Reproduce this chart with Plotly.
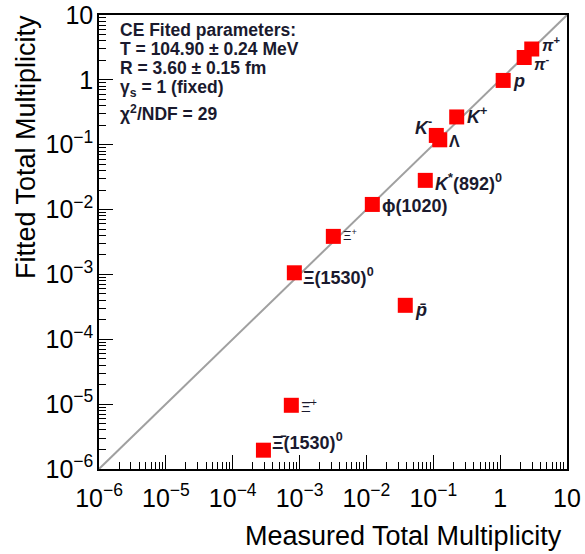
import numpy as np
import plotly.graph_objects as go

# Particle species and their measured / fitted total multiplicities
particles = ["pi+", "pi-", "p", "K+", "K-", "Lambda", "K*0", "phi",
             "Xi", "Xi1530", "pbar", "Xibar+", "Xibar1530"]
measured = [2.97, 2.29, 1.11, 0.224, 0.111, 0.125, 0.0759, 0.01225,
            0.0032, 0.000835, 0.0381, 0.000753, 0.000288]
fitted = [2.99, 2.21, 0.98, 0.268, 0.139, 0.119, 0.0282, 0.0120,
          0.00386, 0.00106, 0.000334, 9.6e-6, 1.95e-6]

labels = ["<b><i>π</i><sup>+</sup></b>", "<b><i>π</i><sup>-</sup></b>", "<b><i>p</i></b>",
          "<b><i>K</i><sup>+</sup></b>", "<b><i>K</i><sup>-</sup></b>", "<b>Λ</b>",
          "<b><i>K</i><sup>*</sup>(892)<sup>0</sup></b>", "<b>ϕ(1020)</b>",
          "Ξ<sup>+</sup>", "<b>Ξ(1530)<sup>0</sup></b>", "<b><i>p̄</i></b>",
          "Ξ̄<sup>+</sup>", "<b>Ξ̄(1530)<sup>0</sup></b>"]

decades = [-6, -5, -4, -3, -2, -1, 0, 1]
tick_text = ["10<sup>−6</sup>", "10<sup>−5</sup>", "10<sup>−4</sup>", "10<sup>−3</sup>",
             "10<sup>−2</sup>", "10<sup>−1</sup>", "1", "10"]

fit_lines = ["<b>CE Fited parameters:</b>",
             "<b>T = 104.90 ± 0.24 MeV</b>",
             "<b>R = 3.60 ± 0.15 fm</b>",
             "<b>γ<sub>s</sub> = 1 (fixed)</b>",
             "<b>χ<sup>2</sup>/NDF = 29</b>"]

FONT = "Liberation Sans, Arial, sans-serif"

W, H = 585, 554
L, R, T, B = 99, 18, 15, 85
pw, ph = W - L - R, H - T - B

tick_vals = [10.0 ** d for d in decades]
minor_vals = [m * 10.0 ** d for d in decades[:-1] for m in range(2, 10)]

fig = go.Figure()

# y = x reference line
fig.add_trace(go.Scatter(x=[tick_vals[0], tick_vals[-1]], y=[tick_vals[0], tick_vals[-1]],
                         mode="lines", line=dict(color="#a0a0a0", width=2),
                         hoverinfo="skip", showlegend=False))

fig.add_trace(go.Scatter(x=measured, y=fitted, mode="markers",
                         marker=dict(symbol="square", size=15, color="#ff0000",
                                     line=dict(width=0)),
                         text=particles, showlegend=False))

# pixel offsets, anchor and font size of each particle label relative to its marker
label_pos = {
    "pi+": (8, 5, "left", 16),
    "pi-": (8, -5, "left", 16),
    "p": (8, -1, "left", 18),
    "K+": (8, 1, "left", 18),
    "K-": (-2, 9, "right", 18),
    "Lambda": (7, -2, "left", 16),
    "K*0": (8, -2, "left", 18),
    "phi": (8, -2, "left", 18),
    "Xi": (8, 1, "left", 13),
    "Xi1530": (7, -4, "left", 18),
    "pbar": (8, -5, "left", 18),
    "Xibar+": (8, 0, "left", 15),
    "Xibar1530": (7, 9, "left", 18),
}

for name, mx, fy, lab in zip(particles, measured, fitted, labels):
    dx, dy, anchor, size = label_pos[name]
    fig.add_annotation(x=np.log10(mx), y=np.log10(fy), xref="x", yref="y",
                       text=lab, showarrow=False, xanchor=anchor, yanchor="middle",
                       xshift=dx, yshift=dy,
                       font=dict(family=FONT, size=size, color="#1a1a2e"))

# fit parameter box (positions given in pixels, converted to axis-domain units)
line_y = [30, 49, 68, 88, 113]
for txt, py in zip(fit_lines, line_y):
    fig.add_annotation(x=(118 - L) / pw, y=1 - (py - T) / ph,
                       xref="x domain", yref="y domain",
                       text=txt, showarrow=False, xanchor="left", yanchor="middle",
                       font=dict(family=FONT, size=17.5, color="#1a1a2e"))

axis_common = dict(type="log", showgrid=False, zeroline=False, automargin=False,
                   showline=True, linecolor="black", linewidth=1.5, mirror=True,
                   ticks="inside", ticklen=14, tickwidth=1, tickcolor="black",
                   tickmode="array", tickvals=tick_vals, ticktext=tick_text,
                   tickfont=dict(family=FONT, size=25, color="black"),
                   minor=dict(tickmode="array", tickvals=minor_vals, ticks="inside",
                              ticklen=7, tickwidth=1, tickcolor="black"),
                   range=[decades[0], decades[-1]])

fig.update_xaxes(**axis_common, ticklabelstandoff=6)
fig.update_yaxes(**axis_common, ticklabelstandoff=-1)

# axis titles
fig.add_annotation(x=(564 - L) / pw, y=1 - (536 - T) / ph, xref="paper", yref="paper",
                   text="Measured Total Multiplicity", showarrow=False,
                   xanchor="right", yanchor="middle",
                   font=dict(family=FONT, size=27, color="black"))
fig.add_annotation(x=(26 - L) / pw, y=1 - (13 - T) / ph, xref="paper", yref="paper",
                   text="Fitted Total Multiplicity", showarrow=False, textangle=-90,
                   xanchor="center", yanchor="top",
                   font=dict(family=FONT, size=27, color="black"))

fig.update_layout(width=W, height=H, margin=dict(l=L, r=R, t=T, b=B, autoexpand=False),
                  paper_bgcolor="white", plot_bgcolor="white", showlegend=False)

fig.write_html("out.html")
